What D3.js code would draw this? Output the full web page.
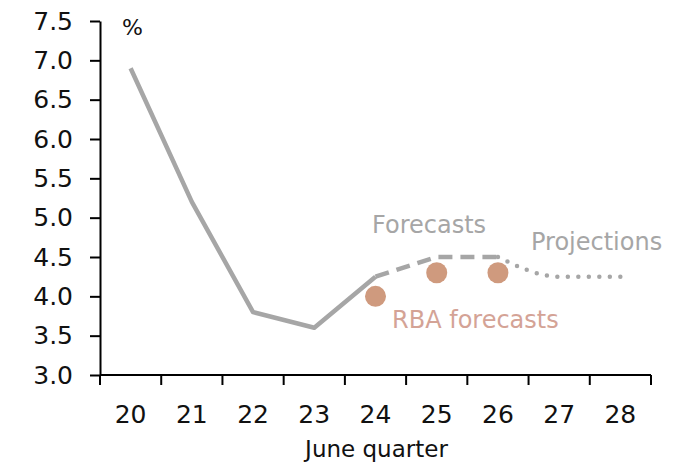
<!DOCTYPE html>
<html lang="en">
<head>
  <meta charset="UTF-8" />
  <title>Unemployment forecasts</title>
  <script src="https://d3js.org/d3.v7.min.js"></script>
  <style>
    body { margin: 0; background: #fff; font-family: "DejaVu Sans", sans-serif; }
    .axis path, .axis line { stroke: #000; stroke-width: 2; fill: none; }
    .axis text { font-size: 25px; fill: #111; font-family: "DejaVu Sans", sans-serif; }
    .note { font-size: 24px; font-family: "DejaVu Sans", sans-serif; }
  </style>
</head>
<body>
  <script>
    // chart data
    var years = ["20", "21", "22", "23", "24", "25", "26", "27", "28"];
    var actual = [6.9, 5.2, 3.8, 3.6, 4.25];
    var forecasts = [4.25, 4.5, 4.5];       // 24 - 26
    var projections = [4.5, 4.25, 4.25];    // 26 - 28
    var rba = [4.0, 4.3, 4.3];              // 24 - 26
    var yTicks = [3.0, 3.5, 4.0, 4.5, 5.0, 5.5, 6.0, 6.5, 7.0, 7.5];

    var W = 697, H = 468;
    var margin = { top: 21, right: 46, bottom: 93, left: 100 };
    var width = W - margin.left - margin.right;
    var height = H - margin.top - margin.bottom;

    var svg = d3.select("body").append("svg")
      .attr("width", W).attr("height", H);
    var g = svg.append("g")
      .attr("transform", "translate(" + margin.left + "," + margin.top + ")");

    var x = d3.scaleBand().domain(years).range([0, width]).padding(0);
    var y = d3.scaleLinear().domain([3, 7.5]).range([height, 0]);
    var cx = function (k) { return x(k) + x.bandwidth() / 2; };

    // y axis
    g.append("g").attr("class", "axis")
      .call(d3.axisLeft(y).tickValues(yTicks).tickFormat(d3.format(".1f"))
        .tickSize(10).tickSizeOuter(0).tickPadding(17));

    // x axis, ticks sit on the band edges
    var xa = g.append("g").attr("class", "axis")
      .attr("transform", "translate(0," + height + ")");
    xa.append("line").attr("x1", 0).attr("x2", width).attr("y1", 0).attr("y2", 0);
    xa.selectAll(".tk").data(years.concat(["end"])).enter().append("line")
      .attr("x1", function (d, i) { return i * x.bandwidth(); })
      .attr("x2", function (d, i) { return i * x.bandwidth(); })
      .attr("y1", 0).attr("y2", 10);
    xa.selectAll(".lb").data(years).enter().append("text")
      .attr("x", function (d) { return cx(d); })
      .attr("y", 48).attr("text-anchor", "middle")
      .text(function (d) { return d; });

    g.append("text").attr("class", "note")
      .attr("x", width / 2 + 1).attr("y", height + 82)
      .attr("text-anchor", "middle").style("font-size", "23px").attr("fill", "#111")
      .text("June quarter");

    g.append("text").attr("class", "note").attr("x", 22).attr("y", 14)
      .style("font-size", "22px").attr("fill", "#111").text("%");

    var line = d3.line()
      .x(function (d) { return cx(d.k); })
      .y(function (d) { return y(d.v); });

    var grey = "#a6a6a6";

    g.append("path")
      .datum(actual.map(function (v, i) { return { k: years[i], v: v }; }))
      .attr("d", line).attr("fill", "none").attr("stroke", grey)
      .attr("stroke-width", 4.5).attr("stroke-linejoin", "round");

    g.append("path")
      .datum(forecasts.map(function (v, i) { return { k: years[4 + i], v: v }; }))
      .attr("d", line).attr("fill", "none").attr("stroke", grey)
      .attr("stroke-width", 4.5).attr("stroke-dasharray", "14,8");

    g.append("path")
      .datum(projections.map(function (v, i) { return { k: years[6 + i], v: v }; }))
      .attr("d", line.curve(d3.curveMonotoneX)).attr("fill", "none").attr("stroke", grey)
      .attr("stroke-width", 4.5).attr("stroke-linecap", "round")
      .attr("stroke-dasharray", "0,10.5");

    g.selectAll(".rba").data(rba).enter().append("circle")
      .attr("cx", function (d, i) { return cx(years[4 + i]); })
      .attr("cy", function (d) { return y(d); })
      .attr("r", 10.5).attr("fill", "#cf9a7e");

    g.append("text").attr("class", "note").attr("x", 272).attr("y", 212)
      .attr("fill", grey).text("Forecasts");
    g.append("text").attr("class", "note").attr("x", 431).attr("y", 229)
      .attr("fill", grey).text("Projections");
    g.append("text").attr("class", "note").attr("x", 292).attr("y", 307)
      .attr("fill", "#d4a396").text("RBA forecasts");
  </script>
</body>
</html>
